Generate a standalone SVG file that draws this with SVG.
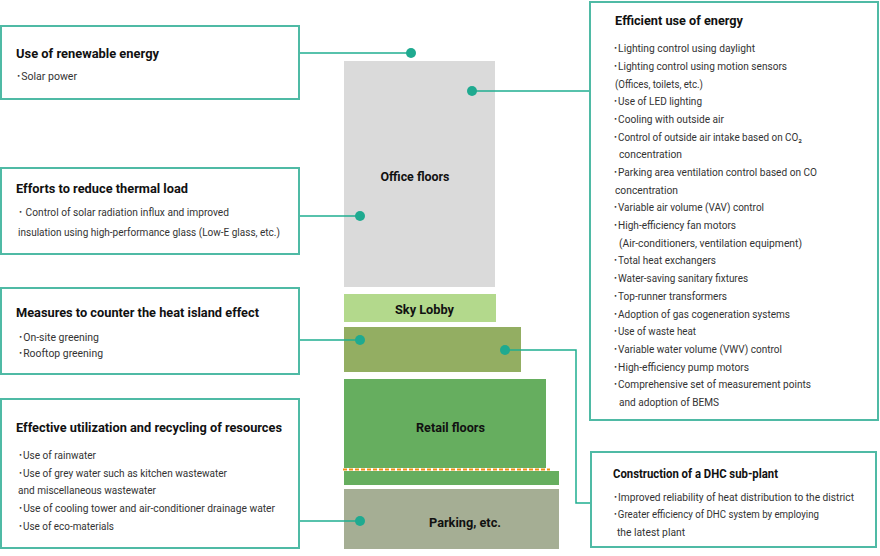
<svg xmlns="http://www.w3.org/2000/svg" width="880" height="556" viewBox="0 0 880 556">
<style>
.box{fill:#fff;stroke:#4fbaa5;stroke-width:2}
.t{font-family:Roboto,"Noto Sans","Noto Sans CJK JP",sans-serif;font-weight:bold;font-size:13px;fill:#111}
.b{font-family:Roboto,"Noto Sans","Noto Sans CJK JP",sans-serif;font-size:10.5px;fill:#333}
.fl{font-family:Roboto,"Noto Sans",sans-serif;font-weight:bold;font-size:13px;fill:#111;text-anchor:middle}
.con{fill:none;stroke:#1fae90;stroke-width:1.5}
.dot{fill:#1faa90}
</style>
<g id="building">
<g id="office"><rect x="344" y="61" width="151" height="226" fill="#dadada"/><text class="fl" x="415" y="181" textLength="69" lengthAdjust="spacingAndGlyphs">Office floors</text></g>
<g id="skylobby"><rect x="344" y="294" width="152" height="28" fill="#b3d98c"/><text class="fl" x="424.5" y="314" textLength="59" lengthAdjust="spacingAndGlyphs">Sky Lobby</text></g>
<g id="greenfloor"><rect x="344" y="327" width="177" height="45" fill="#93ae62"/></g>
<g id="retail"><rect x="344" y="379" width="202" height="90" fill="#66ae5f"/><rect x="344" y="471" width="215" height="14" fill="#66ae5f"/>
<line x1="343" y1="469.5" x2="550" y2="469.5" stroke="#fff" stroke-width="3"/>
<line x1="343" y1="469.5" x2="550" y2="469.5" stroke="#ef8f12" stroke-width="2" stroke-dasharray="4 2"/>
<text class="fl" x="450.5" y="432" textLength="69" lengthAdjust="spacingAndGlyphs">Retail floors</text></g>
<g id="parking"><rect x="344" y="489" width="215" height="60" fill="#a5ae94"/><text class="fl" x="465" y="527" textLength="72" lengthAdjust="spacingAndGlyphs">Parking, etc.</text></g>
</g>
<g id="connectors">
<polyline class="con" points="299,53 411,53"/>
<polyline class="con" points="299,216 360,216"/>
<polyline class="con" points="299,340 360,340"/>
<polyline class="con" points="299,521 360,521"/>
<polyline class="con" points="472,91 590,91"/>
<polyline class="con" points="505,350 576,350 576,503 591,503"/>
<circle class="dot" cx="411" cy="53" r="5"/>
<circle class="dot" cx="472" cy="91" r="5"/>
<circle class="dot" cx="360" cy="216" r="5"/>
<circle class="dot" cx="360" cy="340" r="5"/>
<circle class="dot" cx="505" cy="350" r="5"/>
<circle class="dot" cx="360" cy="521" r="5"/>
</g>
<g id="renewable">
<rect class="box" x="1" y="26" width="298" height="73"/>
<text class="t" x="16" y="58" textLength="143" lengthAdjust="spacingAndGlyphs">Use of renewable energy</text>
<text class="b" x="16" y="80" textLength="61" lengthAdjust="spacingAndGlyphs">･Solar power</text>
</g>
<g id="thermal">
<rect class="box" x="1" y="168" width="298" height="86"/>
<text class="t" x="16" y="193" textLength="172" lengthAdjust="spacingAndGlyphs">Efforts to reduce thermal load</text>
<text class="b" x="18" y="216" textLength="211" lengthAdjust="spacingAndGlyphs">･ Control of solar radiation influx and improved</text>
<text class="b" x="18" y="236" textLength="262" lengthAdjust="spacingAndGlyphs">insulation using high-performance glass (Low-E glass, etc.)</text>
</g>
<g id="heatisland">
<rect class="box" x="1" y="288" width="298" height="86"/>
<text class="t" x="16" y="317" textLength="243" lengthAdjust="spacingAndGlyphs">Measures to counter the heat island effect</text>
<text class="b" x="18" y="341" textLength="81" lengthAdjust="spacingAndGlyphs">･On-site greening</text>
<text class="b" x="18" y="357" textLength="85" lengthAdjust="spacingAndGlyphs">･Rooftop greening</text>
</g>
<g id="resources">
<rect class="box" x="1" y="399" width="298" height="149"/>
<text class="t" x="16" y="432" textLength="266" lengthAdjust="spacingAndGlyphs">Effective utilization and recycling of resources</text>
<text class="b" x="18" y="459" textLength="78" lengthAdjust="spacingAndGlyphs">･Use of rainwater</text>
<text class="b" x="18" y="477" textLength="209" lengthAdjust="spacingAndGlyphs">･Use of grey water such as kitchen wastewater</text>
<text class="b" x="18" y="494" textLength="138" lengthAdjust="spacingAndGlyphs">and miscellaneous wastewater</text>
<text class="b" x="18" y="512" textLength="257" lengthAdjust="spacingAndGlyphs">･Use of cooling tower and air-conditioner drainage water</text>
<text class="b" x="18" y="530" textLength="96" lengthAdjust="spacingAndGlyphs">･Use of eco-materials</text>
</g>
<g id="energy">
<rect class="box" x="590" y="2" width="288" height="418"/>
<text class="t" x="615" y="25" textLength="128" lengthAdjust="spacingAndGlyphs">Efficient use of energy</text>
<text class="b" x="613" y="52" textLength="142" lengthAdjust="spacingAndGlyphs">･Lighting control using daylight</text>
<text class="b" x="613" y="70" textLength="174" lengthAdjust="spacingAndGlyphs">･Lighting control using motion sensors</text>
<text class="b" x="615" y="88" textLength="88" lengthAdjust="spacingAndGlyphs">(Offices, toilets, etc.)</text>
<text class="b" x="613" y="105" textLength="89" lengthAdjust="spacingAndGlyphs">･Use of LED lighting</text>
<text class="b" x="613" y="123" textLength="111" lengthAdjust="spacingAndGlyphs">･Cooling with outside air</text>
<text class="b" x="613" y="141" textLength="189" lengthAdjust="spacingAndGlyphs">･Control of outside air intake based on CO₂</text>
<text class="b" x="619" y="158" textLength="63" lengthAdjust="spacingAndGlyphs">concentration</text>
<text class="b" x="613" y="176" textLength="204" lengthAdjust="spacingAndGlyphs">･Parking area ventilation control based on CO</text>
<text class="b" x="615" y="194" textLength="63" lengthAdjust="spacingAndGlyphs">concentration</text>
<text class="b" x="613" y="211" textLength="151" lengthAdjust="spacingAndGlyphs">･Variable air volume (VAV) control</text>
<text class="b" x="613" y="229" textLength="123" lengthAdjust="spacingAndGlyphs">･High-efficiency fan motors</text>
<text class="b" x="619" y="247" textLength="183" lengthAdjust="spacingAndGlyphs">(Air-conditioners, ventilation equipment)</text>
<text class="b" x="613" y="264" textLength="103" lengthAdjust="spacingAndGlyphs">･Total heat exchangers</text>
<text class="b" x="613" y="282" textLength="135" lengthAdjust="spacingAndGlyphs">･Water-saving sanitary fixtures</text>
<text class="b" x="613" y="300" textLength="114" lengthAdjust="spacingAndGlyphs">･Top-runner transformers</text>
<text class="b" x="613" y="318" textLength="177" lengthAdjust="spacingAndGlyphs">･Adoption of gas cogeneration systems</text>
<text class="b" x="613" y="335" textLength="83" lengthAdjust="spacingAndGlyphs">･Use of waste heat</text>
<text class="b" x="613" y="353" textLength="169" lengthAdjust="spacingAndGlyphs">･Variable water volume (VWV) control</text>
<text class="b" x="613" y="371" textLength="136" lengthAdjust="spacingAndGlyphs">･High-efficiency pump motors</text>
<text class="b" x="613" y="388" textLength="198" lengthAdjust="spacingAndGlyphs">･Comprehensive set of measurement points</text>
<text class="b" x="619" y="406" textLength="100" lengthAdjust="spacingAndGlyphs">and adoption of BEMS</text>
</g>
<g id="dhc">
<rect class="box" x="591" y="452" width="285" height="95"/>
<text class="t" x="613" y="478" textLength="165" lengthAdjust="spacingAndGlyphs">Construction of a DHC sub-plant</text>
<text class="b" x="613" y="501" textLength="241" lengthAdjust="spacingAndGlyphs">･Improved reliability of heat distribution to the district</text>
<text class="b" x="613" y="518" textLength="206" lengthAdjust="spacingAndGlyphs">･Greater efficiency of DHC system by employing</text>
<text class="b" x="617" y="536" textLength="68" lengthAdjust="spacingAndGlyphs">the latest plant</text>
</g>
</svg>
